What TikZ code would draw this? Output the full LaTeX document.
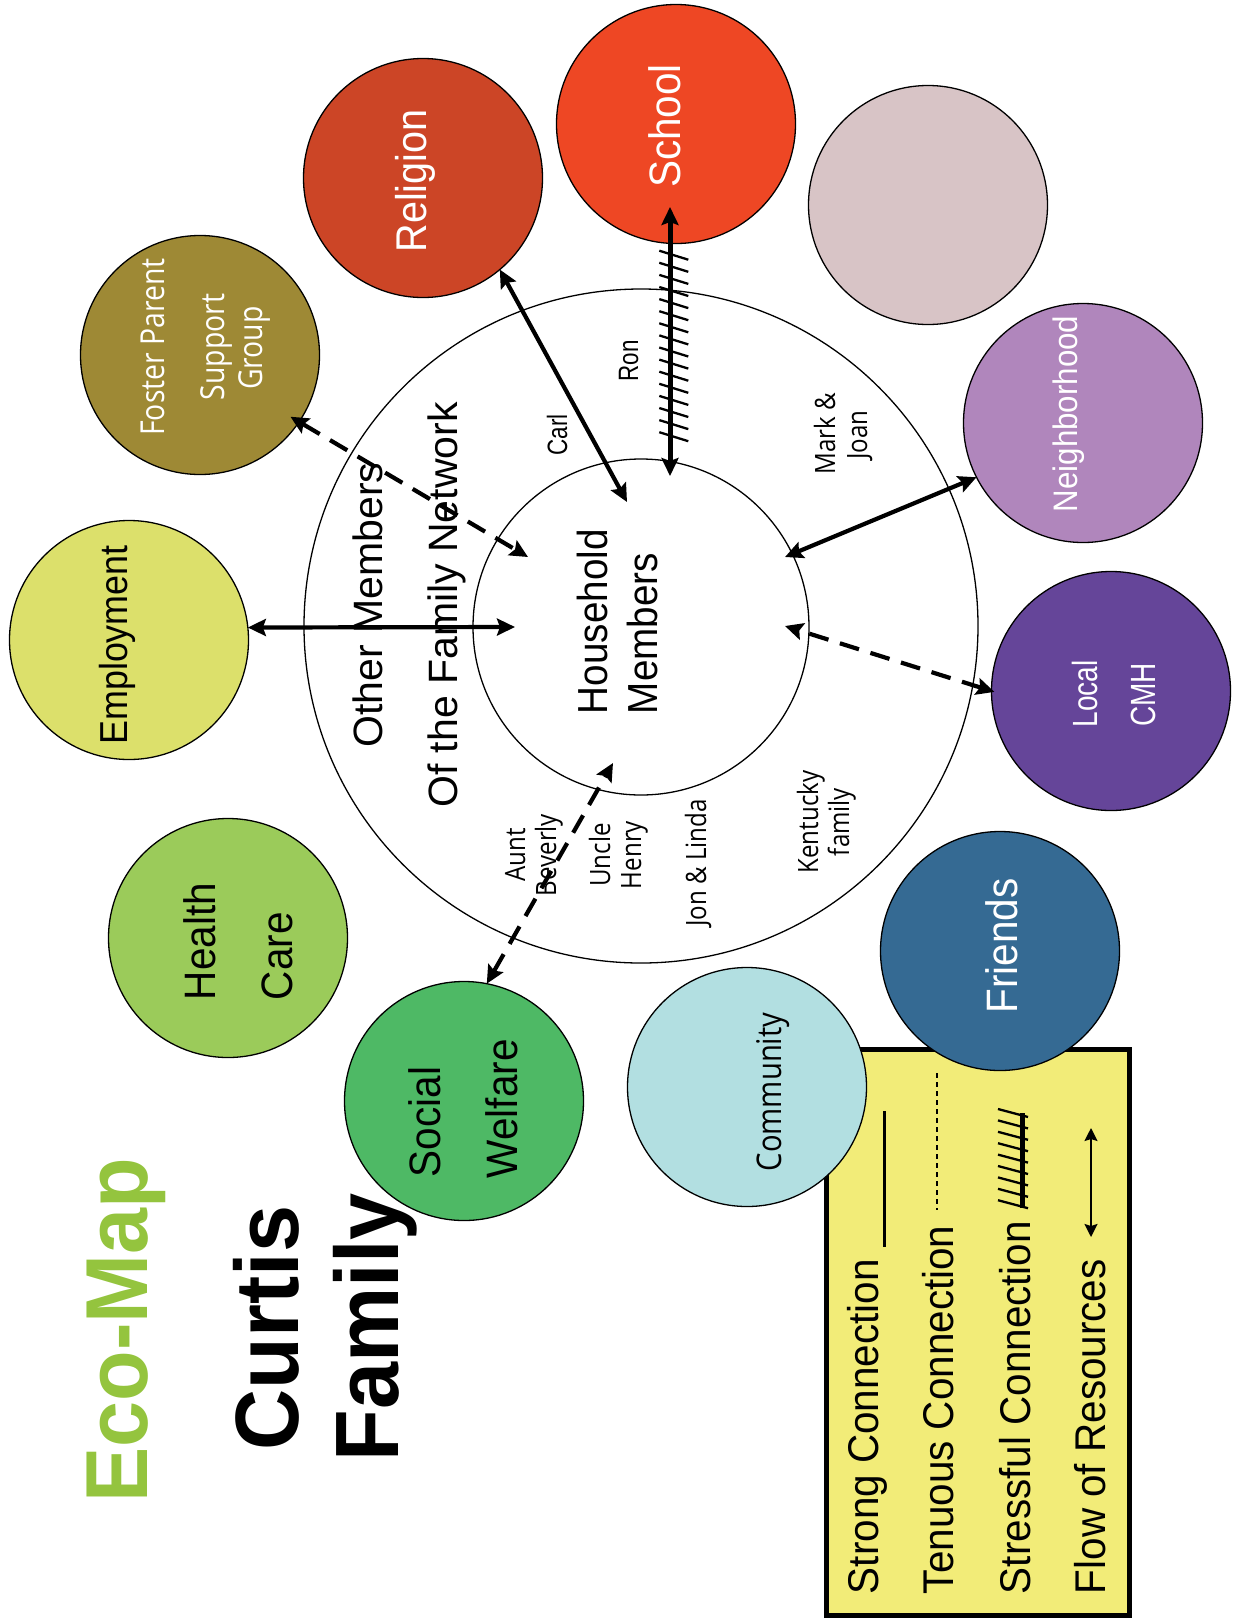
\documentclass[tikz,border=0pt]{standalone}
\usepackage{fontspec}
\setmainfont{Liberation Sans}
\newfontfamily\ecofontw[FakeStretch=0.94]{Liberation Sans}
\newfontfamily\ecofontm[FakeStretch=0.92]{Liberation Sans}
\newfontfamily\ecofontn[FakeStretch=0.80]{Liberation Sans}
\newfontfamily\ecofonth[FakeStretch=0.86]{Open Sans}
\usetikzlibrary{arrows.meta}

\definecolor{religionred}{HTML}{CC4526}
\definecolor{schoolred}{HTML}{EE4724}
\definecolor{blankpink}{HTML}{D8C4C6}
\definecolor{fosterolive}{HTML}{9E8935}
\definecolor{neighlilac}{HTML}{B086BC}
\definecolor{employyellow}{HTML}{DCE06B}
\definecolor{cmhpurple}{HTML}{654599}
\definecolor{healthgreen}{HTML}{9BCB5A}
\definecolor{friendsblue}{HTML}{356A93}
\definecolor{welfaregreen}{HTML}{4EB965}
\definecolor{communitycyan}{HTML}{B2DFE1}
\definecolor{legendyellow}{HTML}{F2EC78}
\definecolor{ecogreen}{HTML}{94C43E}

\begin{document}
\begin{tikzpicture}[x=1pt,y=-1pt,
  vt/.style={rotate=90, inner sep=0pt, outer sep=0pt},
  eco/.style={circle, draw=black, line width=1.3pt, minimum size=239pt, inner sep=0pt, outer sep=0pt},
  ring/.style={circle, draw=black, line width=1.3pt, inner sep=0pt, outer sep=0pt},
  strong/.style={line width=4.2pt, {Stealth[length=18pt,width=17pt,inset=3pt]}-{Stealth[length=18pt,width=17pt,inset=3pt]}},
  tenuous/.style={strong, dash pattern=on 20pt off 12pt},
  stressful/.style={line width=5pt, {Stealth[length=18pt,width=17pt,inset=3pt]}-{Stealth[length=18pt,width=17pt,inset=3pt]}},
  hatch/.style={line width=2.3pt},
  lbl/.style={vt, font=\ecofontm\fontsize{42}{46}\selectfont},
  small/.style={vt, font=\ecofonth\fontsize{28}{31}\selectfont},
  legtext/.style={vt, anchor=base west, font=\ecofontw\fontsize{43}{47}\selectfont},
  titletext/.style={vt, anchor=base, font=\ecofontw\bfseries\fontsize{90}{94}\selectfont}
]
\useasboundingbox (0,0) rectangle (1233,1623);

% legend panel
\node[draw=black, line width=5pt, fill=legendyellow, anchor=north west,
      minimum width=303pt, minimum height=566pt, inner sep=0pt] (legend) at (824,1047) {};

% the family: network ring and household
\node[ring, minimum size=674pt] (network) at (641,626) {};
\node[ring, minimum size=336pt] (home) at (641,627) {};

% outside systems
\node[eco, fill=religionred]   (religion)     at (423,178)  {};
\node[eco, fill=schoolred]     (school)       at (676,124)  {};
\node[eco, fill=blankpink]     (blank)        at (928,205)  {};
\node[eco, fill=fosterolive]   (foster)       at (200,355)  {};
\node[eco, fill=neighlilac]    (neighborhood) at (1083,423) {};
\node[eco, fill=employyellow]  (employment)   at (129,640)  {};
\node[eco, fill=cmhpurple]     (cmh)          at (1111,691) {};
\node[eco, fill=healthgreen]   (health)       at (228,938)  {};
\node[eco, fill=friendsblue]   (friends)      at (1000,951) {};
\node[eco, fill=welfaregreen]  (welfare)      at (464,1101) {};
\node[eco, fill=communitycyan] (community)    at (747,1087) {};

% labels of the outside systems
\node[lbl, anchor=base, text=white, font=\ecofontm\fontsize{43}{47}\selectfont] (religiontext) at (426,181) {Religion};
\node[lbl, anchor=base, text=white, font=\ecofontm\fontsize{44}{48}\selectfont] (schooltext) at (680,126) {School};
\node[vt, anchor=base, text=white, font=\ecofonth\fontsize{33}{36}\selectfont] (fostertext1) at (164,347) {Foster Parent};
\node[vt, anchor=base, text=white, font=\ecofonth\fontsize{33}{36}\selectfont] (fostertext2) at (224,347) {Support};
\node[vt, anchor=base, text=white, font=\ecofonth\fontsize{33}{36}\selectfont] (fostertext3) at (262,348) {Group};
\node[lbl, anchor=base, text=white, font=\ecofontm\fontsize{34}{38}\selectfont] (neightext) at (1077,414) {Neighborhood};
\node[lbl, anchor=base, font=\ecofontm\fontsize{39}{43}\selectfont] (employtext) at (127,645) {Employment};
\node[vt, anchor=base, text=white, font=\ecofontn\fontsize{35}{38}\selectfont] (cmhtext1) at (1097,694) {Local};
\node[vt, anchor=base, text=white, font=\ecofontn\fontsize{35}{38}\selectfont] (cmhtext2) at (1155,695) {CMH};
\node[lbl, anchor=base west, font=\ecofontm\fontsize{44}{48}\selectfont] (healthtext1) at (215,1000) {Health};
\node[lbl, anchor=base west, font=\ecofontm\fontsize{44}{48}\selectfont] (healthtext2) at (292,1000) {Care};
\node[lbl, anchor=base, text=white, font=\ecofontm\fontsize{44}{48}\selectfont] (friendstext) at (1017,946) {Friends};
\node[lbl, anchor=base west, font=\ecofontm\fontsize{44}{48}\selectfont] (welfaretext1) at (440,1177) {Social};
\node[lbl, anchor=base west, font=\ecofontm\fontsize{44}{48}\selectfont] (welfaretext2) at (517,1178) {Welfare};
\node[vt, anchor=base, font=\ecofonth\fontsize{34}{38}\selectfont] (communitytext) at (781,1092) {Community};

% household and extended family
\node[lbl, anchor=base west] (hometext1) at (607,714) {Household};
\node[lbl, anchor=base west] (hometext2) at (657,714) {Members};
\node[vt, anchor=base, font=\fontsize{41}{45}\selectfont] (networktext1) at (382,605) {Other Members};
\node[vt, anchor=base, font=\fontsize{41}{45}\selectfont] (networktext2) at (457,605) {Of the Family Network};

\node[vt, anchor=base, font=\ecofontn\fontsize{28}{31}\selectfont] (carl) at (567,435) {Carl};
\node[vt, anchor=base, font=\ecofontn\fontsize{28}{31}\selectfont] (ron) at (638,361) {Ron};
\node[small, anchor=base] (markjoan1) at (835,434) {Mark \&};
\node[small, anchor=base] (markjoan2) at (867,435) {Joan};
\node[small, anchor=base] (beverly1) at (525,855) {Aunt};
\node[small, anchor=base] (beverly2) at (556,855) {Beverly};
\node[small, anchor=base] (henry1) at (610,855) {Uncle};
\node[small, anchor=base] (henry2) at (641,855) {Henry};
\node[small, anchor=base] (jonlinda) at (706,863) {Jon \& Linda};
\node[small, anchor=base] (kentucky1) at (818,822) {Kentucky};
\node[small, anchor=base] (kentucky2) at (849,822) {family};

% title
\node[titletext, text=ecogreen, font=\ecofontw\bfseries\fontsize{88}{92}\selectfont] (title) at (147,1330) {Eco-Map};
\node[titletext] (curtis) at (298,1328) {Curtis};
\node[titletext] (family) at (398,1327) {Family};

% legend entries
\node[legtext] (legstrong) at (878,1594) {Strong Connection};
\node[legtext] (legtenuous) at (953,1594) {Tenuous Connection};
\node[legtext] (legstress) at (1030,1594) {Stressful Connection};
\node[legtext] (legflow) at (1105,1594) {Flow of Resources};

\draw[line width=3pt] (884,1111) -- (884,1247);
\draw[line width=1.5pt, dash pattern=on 5pt off 4pt] (937,1073) -- (937,1210);
\draw[line width=5pt] (1022,1113) -- (1022,1208);
\foreach \k in {0,...,8}
  \draw[hatch] (998,{1109+11.4*\k}) -- (1028,{1117+11.4*\k});
\draw[line width=2pt, {Stealth[length=13pt,width=13pt,inset=2pt]}-{Stealth[length=13pt,width=13pt,inset=2pt]}] (1091,1128) -- (1091,1237);

% connector ends inside the household
\coordinate (h1) at (627,502);
\coordinate (h2) at (670,476);
\coordinate (h3) at (528,557);
\coordinate (h4) at (515,627);
\coordinate (h5) at (785,557);
\coordinate (h6) at (785,626);
\coordinate (h7) at (613,763);
\coordinate (schoolend) at (670,207);

% connections
\draw[strong] (religion.-50) -- (h1);
\draw[stressful] (schoolend) -- (h2);
\foreach \k in {0,...,15}
  \draw[hatch] (659.3,{250.7+12.1*\k}) -- (688.3,{259.7+12.1*\k});
\draw[tenuous, shorten <=-10pt] (foster.-34) -- (h3);
\draw[strong] (employment.6) -- (h4);
\draw[strong] (neighborhood.207) -- (h5);
\draw[tenuous, shorten <=-3pt] (cmh.180) -- (h6);
\draw[tenuous] (welfare.79) -- (h7);
\end{tikzpicture}
\end{document}
